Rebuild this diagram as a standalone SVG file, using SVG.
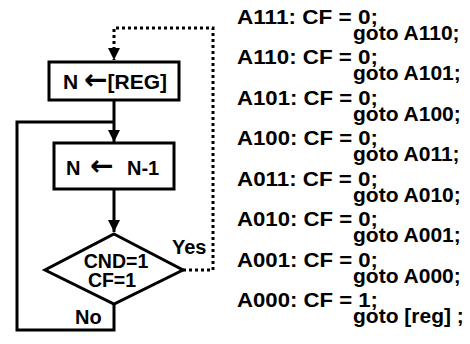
<svg xmlns="http://www.w3.org/2000/svg" width="470" height="344" viewBox="0 0 470 344">
<defs>
<style>
.t{font-family:"Liberation Sans",Arial,sans-serif;font-weight:bold;fill:#000}
.ar{font-family:"DejaVu Sans",sans-serif;font-weight:bold;font-size:28px}
.n{fill:#fff;stroke:#000;stroke-width:3}
.c{fill:none;stroke:#000;stroke-width:3}
.d{fill:none;stroke:#000;stroke-width:3;stroke-dasharray:3 3}
.code{font-size:21px}
</style>
<marker id="ah" viewBox="0 0 10 10" refX="10" refY="5" markerWidth="4" markerHeight="4" orient="auto" markerUnits="strokeWidth">
<path d="M0,0 L10,5 L0,10 z" fill="#000"/>
</marker>
</defs>
<rect width="470" height="344" fill="#fff"/>
<g id="connectors">
<path class="d" d="M183,270 H213 V28 H114 V60" marker-end="url(#ah)"/>
<path class="c" d="M114,101 V142" marker-end="url(#ah)"/>
<path class="c" d="M114,304 V330 H17 V122 H114"/>
<path class="c" d="M114,189 V232" marker-end="url(#ah)"/>
</g>
<g id="node-reg">
<rect class="n" x="49" y="62" width="130" height="38"/>
<text class="t" x="63" y="89" font-size="21">N <tspan class="ar">←</tspan><tspan>[REG]</tspan></text>
</g>
<g id="node-dec">
<rect class="n" x="54" y="143" width="120" height="46"/>
<text class="t" x="66" y="175" font-size="20">N <tspan class="ar" dx="4">←</tspan><tspan x="127">N-1</tspan></text>
</g>
<g id="node-cond">
<polygon class="n" points="114,234 183,270 114,304 45,270"/>
<text class="t" x="116" y="268" font-size="19.5" text-anchor="middle">CND=1</text>
<text class="t" x="112" y="287" font-size="19.5" text-anchor="middle">CF=1</text>
</g>
<text class="t" x="172" y="254" font-size="20">Yes</text>
<text class="t" x="75" y="324" font-size="20">No</text>
<g id="code" class="t code">
<text x="237" y="24" textLength="141" lengthAdjust="spacingAndGlyphs">A111: CF = 0;</text>
<text x="353" y="40">goto A110;</text>
<text x="237" y="64" textLength="141" lengthAdjust="spacingAndGlyphs">A110: CF = 0;</text>
<text x="353" y="80">goto A101;</text>
<text x="237" y="105" textLength="141" lengthAdjust="spacingAndGlyphs">A101: CF = 0;</text>
<text x="353" y="121">goto A100;</text>
<text x="237" y="145" textLength="141" lengthAdjust="spacingAndGlyphs">A100: CF = 0;</text>
<text x="353" y="161">goto A011;</text>
<text x="237" y="186" textLength="141" lengthAdjust="spacingAndGlyphs">A011: CF = 0;</text>
<text x="353" y="202">goto A010;</text>
<text x="237" y="226" textLength="141" lengthAdjust="spacingAndGlyphs">A010: CF = 0;</text>
<text x="353" y="242">goto A001;</text>
<text x="237" y="267" textLength="141" lengthAdjust="spacingAndGlyphs">A001: CF = 0;</text>
<text x="353" y="283">goto A000;</text>
<text x="237" y="307" textLength="141" lengthAdjust="spacingAndGlyphs">A000: CF = 1;</text>
<text x="353" y="323">goto [reg] ;</text>
</g>
</svg>
